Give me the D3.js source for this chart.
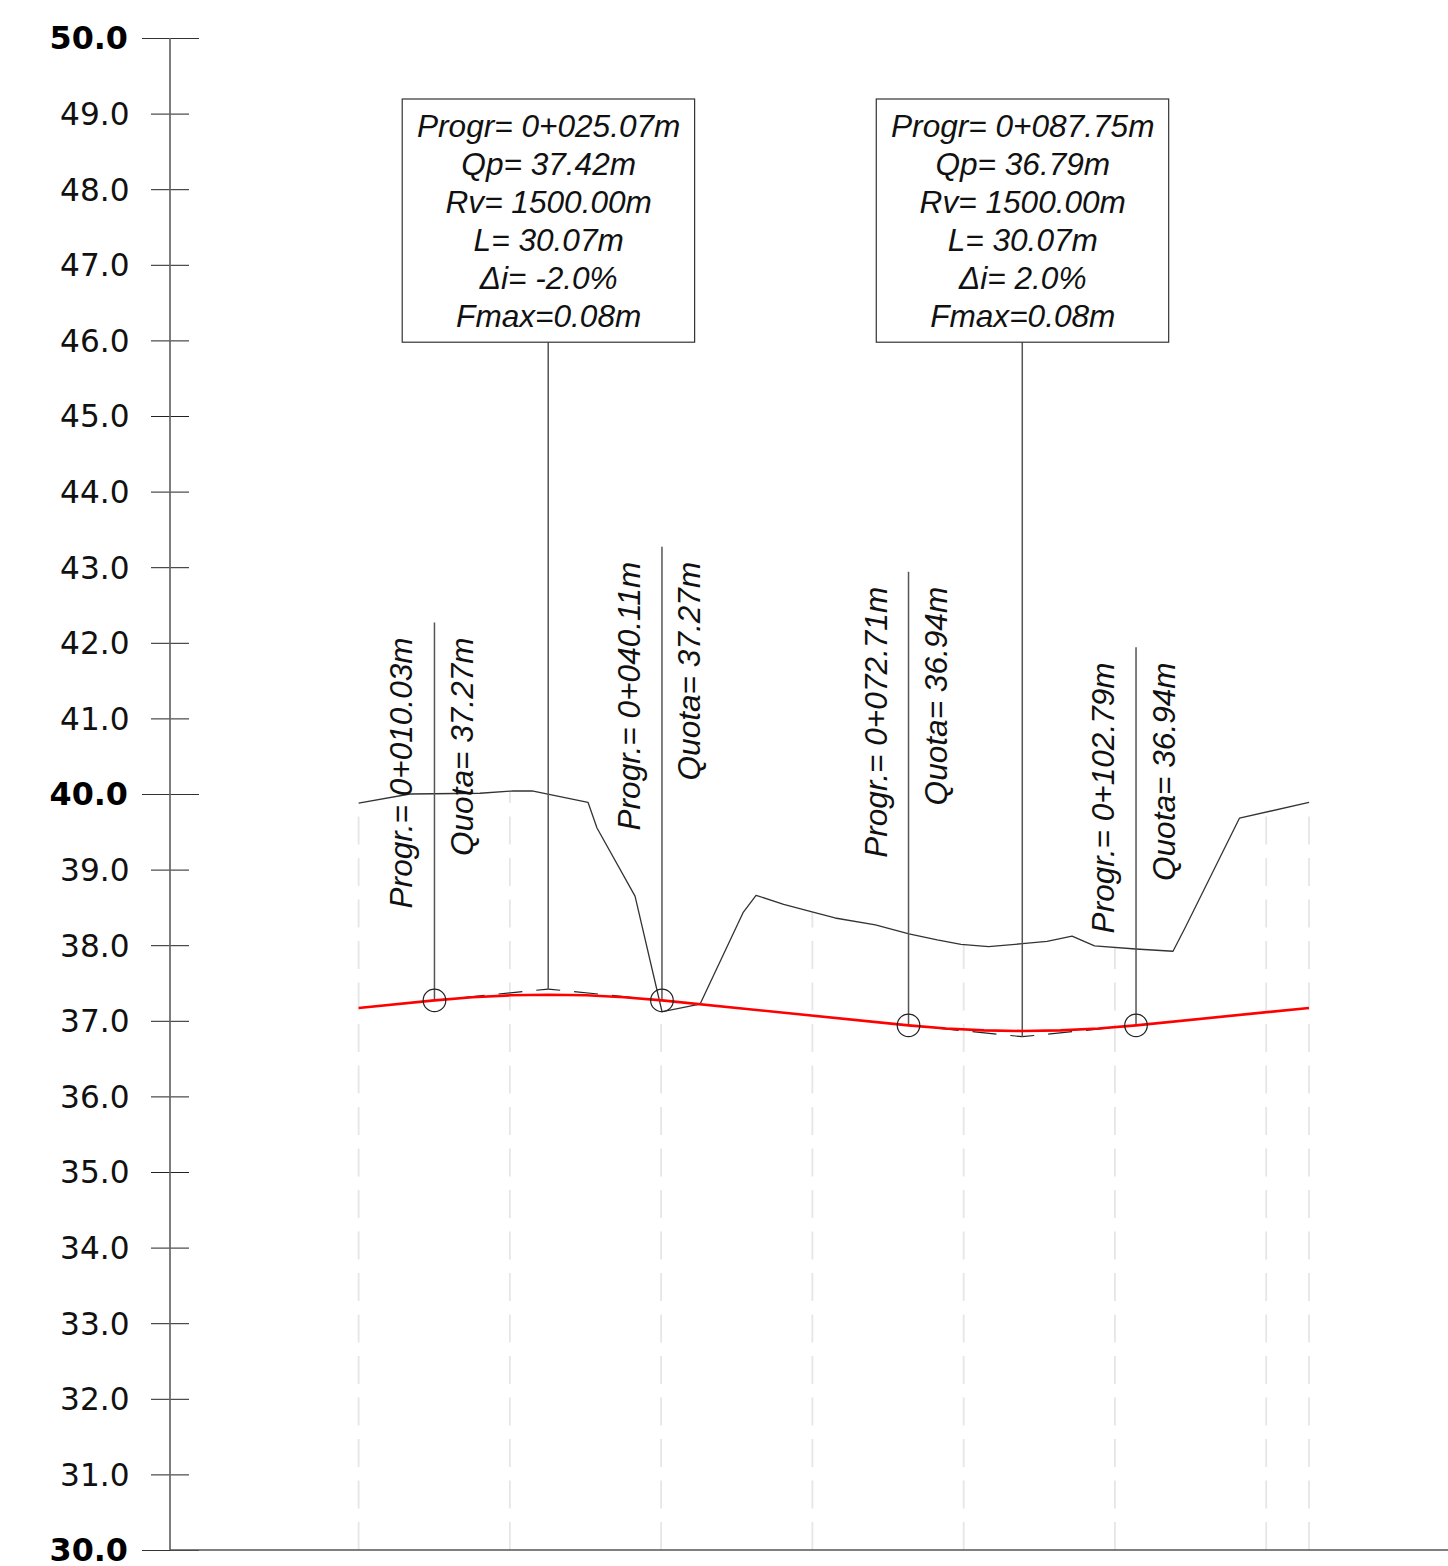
<!DOCTYPE html>
<html><head><meta charset="utf-8">
<script src="https://cdn.jsdelivr.net/npm/d3@7/dist/d3.min.js"></script>
<style>html,body{margin:0;padding:0;background:#fff}svg{display:block}</style>
</head><body><svg id="c" width="1448" height="1566"></svg>
<script>
const minorTicks = [49,48,47,46,45,44,43,42,41,39,38,37,36,35,34,33,32,31];
const majorTicks = [50,40,30];
const gridStations = [0,20,40,60,80,100,120,125.66];
const gridTops = [39.88,40.04,37.12,38.44,38.02,37.97,39.77,39.89];
const terrainProg = [0,6.80,16.05,20.42,22.93,30.33,31.52,36.55,40.12,41.17,45.14,50.83,52.55,56.2,59.95,62.99,68.33,72.77,76.5,79.65,83.29,87.76,91.02,94.33,97.30,102.75,107.68,109.33,116.46,125.66];
const terrainElev = [39.88,40.00,40.01,40.04,40.04,39.89,39.55,38.65,37.12,37.14,37.22,38.43,38.66,38.54,38.44,38.36,38.27,38.15,38.07,38.01,37.98,38.02,38.05,38.12,37.99,37.95,37.92,38.24,39.68,39.89];
const gradeProg = [0,10.03,15.03,20.03,25.07,30.11,35.11,40.11,72.71,77.71,82.71,87.75,92.79,97.79,102.79,125.66];
const gradeElev = [37.17,37.27,37.312,37.337,37.345,37.337,37.312,37.27,36.94,36.898,36.873,36.865,36.873,36.898,36.94,37.17];
const vertexProg = [25.07,87.75];
const vertexElev = [37.42,36.79];
const tangentProg = [10.03,40.11,72.71,102.79];
const tangentElev = [37.27,37.27,36.94,36.94];
const tangentTop = [42.27,43.27,42.94,41.94];
const pointLabels = ["Progr.= 0+010.03m","Progr.= 0+040.11m","Progr.= 0+072.71m","Progr.= 0+102.79m"];
const quotaLabels = ["Quota= 37.27m","Quota= 37.27m","Quota= 36.94m","Quota= 36.94m"];
const box1 = ["Progr= 0+025.07m","Qp= 37.42m","Rv= 1500.00m","L= 30.07m","Δi= -2.0%","Fmax=0.08m"];
const box2 = ["Progr= 0+087.75m","Qp= 36.79m","Rv= 1500.00m","L= 30.07m","Δi= 2.0%","Fmax=0.08m"];

const svg = d3.select("#c");
const x = d3.scaleLinear().domain([0,125.66]).range([358.6,1309]);
const y = d3.scaleLinear().domain([30,50]).range([1550,38]);
const line = d3.line().x(d=>x(d[0])).y(d=>y(d[1]));
const SANS = "'Liberation Sans',Arial,sans-serif", AX = "'DejaVu Sans',Verdana,sans-serif";

// station grid, dashes anchored at the base
svg.append("g").selectAll("line").data(gridStations).join("line")
  .attr("x1",d=>x(d)).attr("x2",d=>x(d)).attr("y1",y(30)).attr("y2",(d,i)=>y(gridTops[i]))
  .attr("stroke","#e6e6e6").attr("stroke-width",1.8).attr("stroke-dasharray","28 13.5");

// axes
const axis = d3.axisLeft(y).tickValues(minorTicks).tickSize(19).tickFormat(d3.format(".1f"));
const ga = svg.append("g").attr("transform",`translate(170,0)`).call(axis);
ga.select(".domain").remove();
ga.selectAll(".tick line").attr("x1",-19).attr("x2",19).attr("stroke","#222").attr("stroke-width",1);
ga.selectAll(".tick text").attr("x",-40.5).attr("font-family",AX).attr("font-size",31.2).attr("fill","#111").attr("dy","0.35em");
const axisM = d3.axisLeft(y).tickValues(majorTicks).tickSize(28).tickFormat(d3.format(".1f"));
const gm = svg.append("g").attr("transform",`translate(170,0)`).call(axisM);
gm.select(".domain").remove();
gm.selectAll(".tick line").attr("x1",-28).attr("x2",29).attr("stroke","#333").attr("stroke-width",1);
gm.selectAll(".tick text").attr("x",-42).attr("font-family",AX).attr("font-weight","bold").attr("font-size",31.8).attr("fill","#000").attr("dy","0.32em");
svg.append("line").attr("x1",170).attr("x2",170).attr("y1",y(50)).attr("y2",y(30)).attr("stroke","#666").attr("stroke-width",1.7);
svg.append("line").attr("x1",170).attr("x2",1448).attr("y1",y(30)).attr("y2",y(30)).attr("stroke","#555").attr("stroke-width",1.3);

// terrain
svg.append("path").datum(d3.zip(terrainProg,terrainElev)).attr("d",line)
  .attr("fill","none").attr("stroke","#333").attr("stroke-width",1.3).attr("stroke-linejoin","round");

// tangent lines: each arm starts at its vertex with half a dash
[0,1].forEach(k=>{
  [tangentProg[2*k],tangentProg[2*k+1]].forEach((p,j)=>{
    svg.append("path").datum([[vertexProg[k],vertexElev[k]],[p,tangentElev[2*k+j]]]).attr("d",line)
      .attr("fill","none").attr("stroke","#222").attr("stroke-width",1.2)
      .attr("stroke-dasharray","24 14").attr("stroke-dashoffset",12);
  });
});

// leaders of the point labels
svg.append("g").selectAll("line").data(tangentProg).join("line")
  .attr("x1",d=>x(d)).attr("x2",d=>x(d)).attr("y1",(d,i)=>y(tangentTop[i])).attr("y2",(d,i)=>y(tangentElev[i]))
  .attr("stroke","#555").attr("stroke-width",1.5);

// leaders and boxes of the vertices
[box1,box2].forEach((lines,k)=>{
  const cx = x(vertexProg[k]);
  svg.append("line").attr("x1",cx).attr("x2",cx).attr("y1",342).attr("y2",y(vertexElev[k]))
    .attr("stroke","#555").attr("stroke-width",1.5);
  svg.append("rect").attr("x",cx-146).attr("y",99).attr("width",292.4).attr("height",243.2)
    .attr("fill","#fff").attr("stroke","#333").attr("stroke-width",1.2);
  svg.append("g").selectAll("text").data(lines).join("text")
    .attr("x",cx+0.5).attr("y",(d,i)=>137+i*38).attr("text-anchor","middle")
    .attr("font-family",SANS).attr("font-style","italic").attr("font-size",31.6).attr("fill","#111").text(d=>d);
});

// design grade
svg.append("path").datum(d3.zip(gradeProg,gradeElev)).attr("d",line)
  .attr("fill","none").attr("stroke","#f00").attr("stroke-width",2.6);

// tangent points
svg.append("g").selectAll("circle").data(tangentProg).join("circle")
  .attr("cx",d=>x(d)).attr("cy",(d,i)=>y(tangentElev[i])).attr("r",11.3)
  .attr("fill","none").attr("stroke","#222").attr("stroke-width",1.2);

// rotated labels
function vtext(arr,dx){
  svg.append("g").selectAll("text").data(arr).join("text")
    .attr("transform",(d,i)=>`translate(${x(tangentProg[i])+dx},${y(tangentTop[i])+15}) rotate(-90)`)
    .attr("text-anchor","end").attr("font-family",SANS).attr("font-style","italic")
    .attr("font-size",31.6).attr("fill","#111").text(d=>d);
}
vtext(pointLabels,-22);
vtext(quotaLabels,38.5);
</script></body></html>
